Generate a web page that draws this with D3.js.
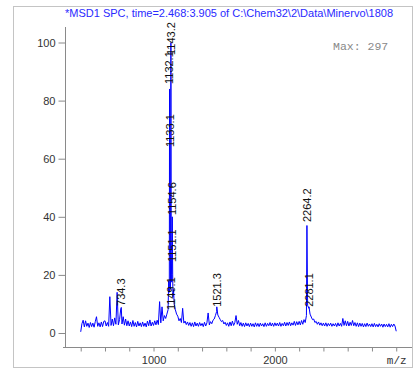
<!DOCTYPE html>
<html>
<head>
<meta charset="utf-8">
<script src="https://cdn.jsdelivr.net/npm/d3@7"></script>
<style>
  body { margin: 0; background: #fff; }
  text { font-family: "Liberation Sans", Arial, sans-serif; }
</style>
</head>
<body>
<div id="vis"></div>
<script>
// profile intensities (% of max), every 10 m/z starting at 400
var mzStart = 400, mzStep = 10;
var profile = [
  0.4, 3.2, 4.4, 2.1, 4.2, 2.3, 3.4, 1.9, 3.6, 2.2,
  3.4, 2.0, 3.9, 5.6, 2.3, 3.5, 2.1, 3.8, 2.2, 4.0,
  4.2, 2.4, 3.6, 2.3, 12.5, 2.6, 4.8, 2.5, 5.2, 3.0,
  14.0, 2.8, 4.6, 8.3, 3.1, 5.6, 2.7, 4.8, 2.5, 4.2,
  2.4, 3.8, 2.2, 4.3, 2.3, 3.6, 2.1, 4.0, 2.4, 3.5,
  2.2, 3.8, 2.3, 3.4, 2.1, 4.1, 2.5, 4.5, 2.4, 3.7,
  2.6, 4.2, 2.8, 4.4, 2.9, 10.8, 3.5, 9.0, 4.2, 6.0,
  5.0, 6.5, 8.0, 14.0, 15.0, 17.5, 12.5, 10.0, 8.0, 6.5,
  5.8, 4.2, 5.0, 3.6, 8.5, 3.4, 4.1, 2.9, 3.8, 2.6,
  3.6, 2.3, 3.5, 2.2, 3.8, 2.4, 3.4, 2.3, 3.6, 2.5,
  3.3, 2.2, 3.7, 2.4, 3.5, 6.9, 2.8, 3.9, 3.2, 4.4,
  4.8, 6.0, 7.4, 6.2, 5.4, 4.6, 3.9, 4.3, 3.1, 3.7,
  2.6, 3.5, 2.3, 3.8, 2.5, 4.1, 2.6, 3.6, 6.0, 3.0,
  4.3, 2.5, 3.6, 2.3, 3.4, 2.2, 3.5, 2.4, 3.3, 2.2,
  3.4, 2.3, 3.2, 2.1, 3.5, 2.3, 3.3, 2.2, 3.4, 2.4,
  3.2, 2.2, 3.5, 2.3, 3.3, 2.5, 3.6, 2.4, 3.4, 2.3,
  3.5, 2.5, 3.4, 2.4, 3.6, 2.3, 3.3, 2.5, 3.7, 2.4,
  3.6, 2.6, 3.8, 2.5, 3.5, 2.7, 4.0, 2.6, 3.9, 2.8,
  4.0, 2.8, 4.3, 3.0, 4.6, 3.6, 6.0, 9.5, 8.5, 6.5,
  5.5, 4.6, 4.8, 3.6, 4.0, 3.0, 3.8, 2.7, 3.5, 2.5,
  3.4, 2.4, 3.5, 2.3, 3.3, 2.5, 3.4, 2.3, 3.2, 2.4,
  3.3, 2.2, 3.5, 2.4, 3.3, 2.3, 5.0, 2.6, 4.2, 2.5,
  4.0, 2.4, 3.7, 2.6, 4.3, 2.5, 3.6, 2.3, 3.5, 2.2,
  3.4, 2.3, 3.3, 2.1, 3.2, 2.2, 3.4, 2.3, 3.1, 2.2,
  3.2, 2.1, 3.3, 2.2, 3.0, 2.1, 3.2, 2.3, 3.1, 2.0,
  3.1, 2.2, 3.0, 2.1, 3.2, 2.0, 3.0, 2.2, 3.1, 2.4,
  0.6
];

// sharp peaks (centroid m/z, % intensity)
var peakMz  = [734.3, 1125, 1132.1, 1133.1, 1137, 1143.2, 1146, 1149.1, 1151.1, 1154.6, 1158, 1165, 1521.3, 2264.2, 2281.1];
var peakInt = [8.8,   18,   84,     63,     30,   100,    28,   20,     24,     40,     20,   15,   9.0,    37,     9.0];

// peak labels and the level (%) where each label starts
var labelText  = ['734.3', '1132.1', '1133.1', '1143.2', '1149.1', '1151.1', '1154.6', '1521.3', '2264.2', '2281.1'];
var labelLevel = [9.3,     85.7,     64,       95.7,     7.9,      24.4,     40.6,     9.0,      38.2,     9.0];

var yTicks = [0, 20, 40, 60, 80, 100];
var xTicks = [1000, 2000];
var title = '*MSD1 SPC, time=2.468:3.905 of C:\\Chem32\\2\\Data\\Minervo\\1808';
var maxText = 'Max: 297';

var width = 418, height = 372;
var svg = d3.select('#vis').append('svg')
  .attr('width', width).attr('height', height);

// outer frame
svg.append('rect')
  .attr('x', 13.5).attr('y', 6.5)
  .attr('width', 399).attr('height', 361)
  .attr('fill', '#fff').attr('stroke', '#c4c4c4');

svg.append('clipPath').attr('id', 'frame')
  .append('rect').attr('x', 14).attr('y', 7).attr('width', 398).attr('height', 360);

var xScale = d3.scaleLinear().domain([254, 3130]).range([63, 412]);
var yScale = d3.scaleLinear().domain([0, 100]).range([333, 42.5]);

// y axis
var yAxis = svg.append('g').attr('transform', 'translate(65.5,0)');
yAxis.call(d3.axisLeft(yScale).tickValues(d3.range(-5, 106, 5)).tickSize(3).tickFormat(''));
yAxis.call(d3.axisLeft(yScale).tickValues(yTicks).tickSize(7).tickPadding(3))
yAxis.selectAll('.domain').remove();
yAxis.append('line').attr('y1', 27).attr('y2', 348).attr('stroke', '#8a8a8a');
yAxis.selectAll('.tick line').attr('stroke', '#8a8a8a');
yAxis.selectAll('.tick text').attr('fill', '#333').style('font-size', '11px');

// x axis
var xAxis = svg.append('g').attr('transform', 'translate(0,347.5)');
xAxis.call(d3.axisBottom(xScale).tickValues(d3.range(400, 3001, 200)).tickSize(4)
  .tickFormat(function(d) {
    if (xTicks.indexOf(d) >= 0) return d;
    if (d === 3000) return 'm/z';
    return '';
  }).tickPadding(5));
xAxis.selectAll('.domain').remove();
xAxis.append('line').attr('x1', 63).attr('x2', 412).attr('stroke', '#8a8a8a');
xAxis.selectAll('.tick line').attr('stroke', '#8a8a8a');
xAxis.selectAll('.tick text').attr('fill', '#333').style('font-size', '11px')
  .style('font-family', function(d) { return d === 3000 ? '"Liberation Mono", monospace' : null; });

// spectrum: profile plus the sharp peaks, in m/z order
var series = profile.map(function(v, i) { return {mz: mzStart + i * mzStep, v: v}; });
peakMz.forEach(function(m, i) { series.push({mz: m, v: peakInt[i]}); });
series.sort(function(a, b) { return a.mz - b.mz; });

var line = d3.line()
  .x(function(d) { return xScale(d.mz); })
  .y(function(d) { return yScale(d.v); });

svg.append('path')
  .datum(series)
  .attr('d', line)
  .attr('fill', 'none')
  .attr('stroke', '#0000ff')
  .attr('stroke-width', 1);

// peak labels
svg.selectAll('.plabel')
  .data(labelText)
  .enter().append('text')
  .attr('class', 'plabel')
  .attr('transform', function(d, i) {
    return 'translate(' + xScale(+d) + ',' + yScale(labelLevel[i]) + ') rotate(-90)';
  })
  .attr('dy', '0.35em')
  .attr('fill', '#111')
  .style('font-size', '11px')
  .text(function(d) { return d; });

// title and max
svg.append('text')
  .attr('x', 65).attr('y', 17)
  .attr('clip-path', 'url(#frame)')
  .attr('fill', '#2a2aff')
  .style('font-size', '11px')
  .text(title);

svg.append('text')
  .attr('x', 333).attr('y', 50)
  .attr('fill', '#888')
  .style('font-family', '"Liberation Mono", monospace')
  .style('font-size', '11.5px')
  .text(maxText);
</script>
</body>
</html>
